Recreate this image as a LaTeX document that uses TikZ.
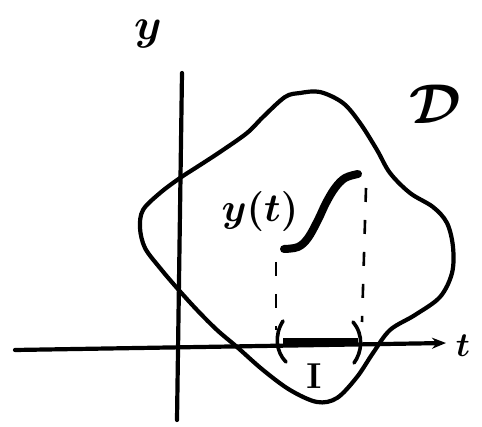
\RequirePackage{fix-cm}
\documentclass[tikz,border=0pt]{standalone}
\usetikzlibrary{arrows.meta}
\begin{document}
\begin{tikzpicture}[x=1pt,y=-1pt,
  pen/.style={line width=4.2pt,line cap=round,line join=round},
  thickpen/.style={line width=8pt,line cap=round},
  dashpen/.style={line width=2.6pt,dash pattern=on 14pt off 18pt},
  lbl/.style={inner sep=0pt,font=\boldmath\fontsize{30}{30}\selectfont}]
\useasboundingbox (0,0) rectangle (482,427);
% domain D
\draw[pen] plot[smooth cycle,tension=0.55] coordinates {
 (300,93) (320,92) (343,103) (360,123) (377,150) (390,173) (410,193) (433,207)
 (447,223) (453,247) (452,273) (440,297) (415,315) (390,330) (373,353) (357,377)
 (337,398) (317,402) (290,390) (263,370) (237,347) (217,330) (197,310) (177,288)
 (160,268) (145,248) (140,228) (143,210) (160,193) (180,178) (197,167) (220,152)
 (247,133) (263,117) (285,97)};
% axes
\coordinate (ytop) at (182,73);
\coordinate (ybot) at (177,420);
\coordinate (tleft) at (15,350);
\coordinate (tright) at (446,343);
\draw[pen] (ybot) -- (ytop);
\draw[pen,-{Stealth[length=14pt,width=11pt]}] (tleft) -- (tright);
\node[lbl] (ylab) at (148,34) {\fontsize{44}{44}\selectfont$y$};
\node[lbl] (tlab) at (463,346) {\fontsize{34}{34}\selectfont$t$};
\node[lbl] (Dlab) at (435,104) {\fontsize{56}{56}\selectfont$\mathcal{D}$};
% curve y(t)
\draw[thickpen] plot[smooth,tension=0.6] coordinates {(284,249) (298,247) (308,238) (318,220) (326,203) (335,188) (345,178) (358,174)};
\node[lbl] (yt) at (260,212) {\fontsize{40}{40}\selectfont$y(t)$};
% dashed projections
\coordinate (a1) at (276,262);
\coordinate (a2) at (276,330);
\coordinate (b1) at (366,188);
\coordinate (b2) at (362,322);
\draw[dashpen] (a1) -- (a2);
\draw[dashpen] (b1) -- (b2);
% interval I
\coordinate (i1) at (283,342);
\coordinate (i2) at (358,342);
\draw[line width=7pt] (i1) -- (i2);
\draw[pen,line width=3.6pt] (283,321) .. controls (274,335) and (276,352) .. (286,362);
\draw[pen,line width=3.6pt] (353,322) .. controls (364,335) and (362,352) .. (354,363);
\node[lbl] (Ilab) at (314,376) {\fontsize{36}{36}\selectfont$\mathbf{I}$};
\end{tikzpicture}
\end{document}
